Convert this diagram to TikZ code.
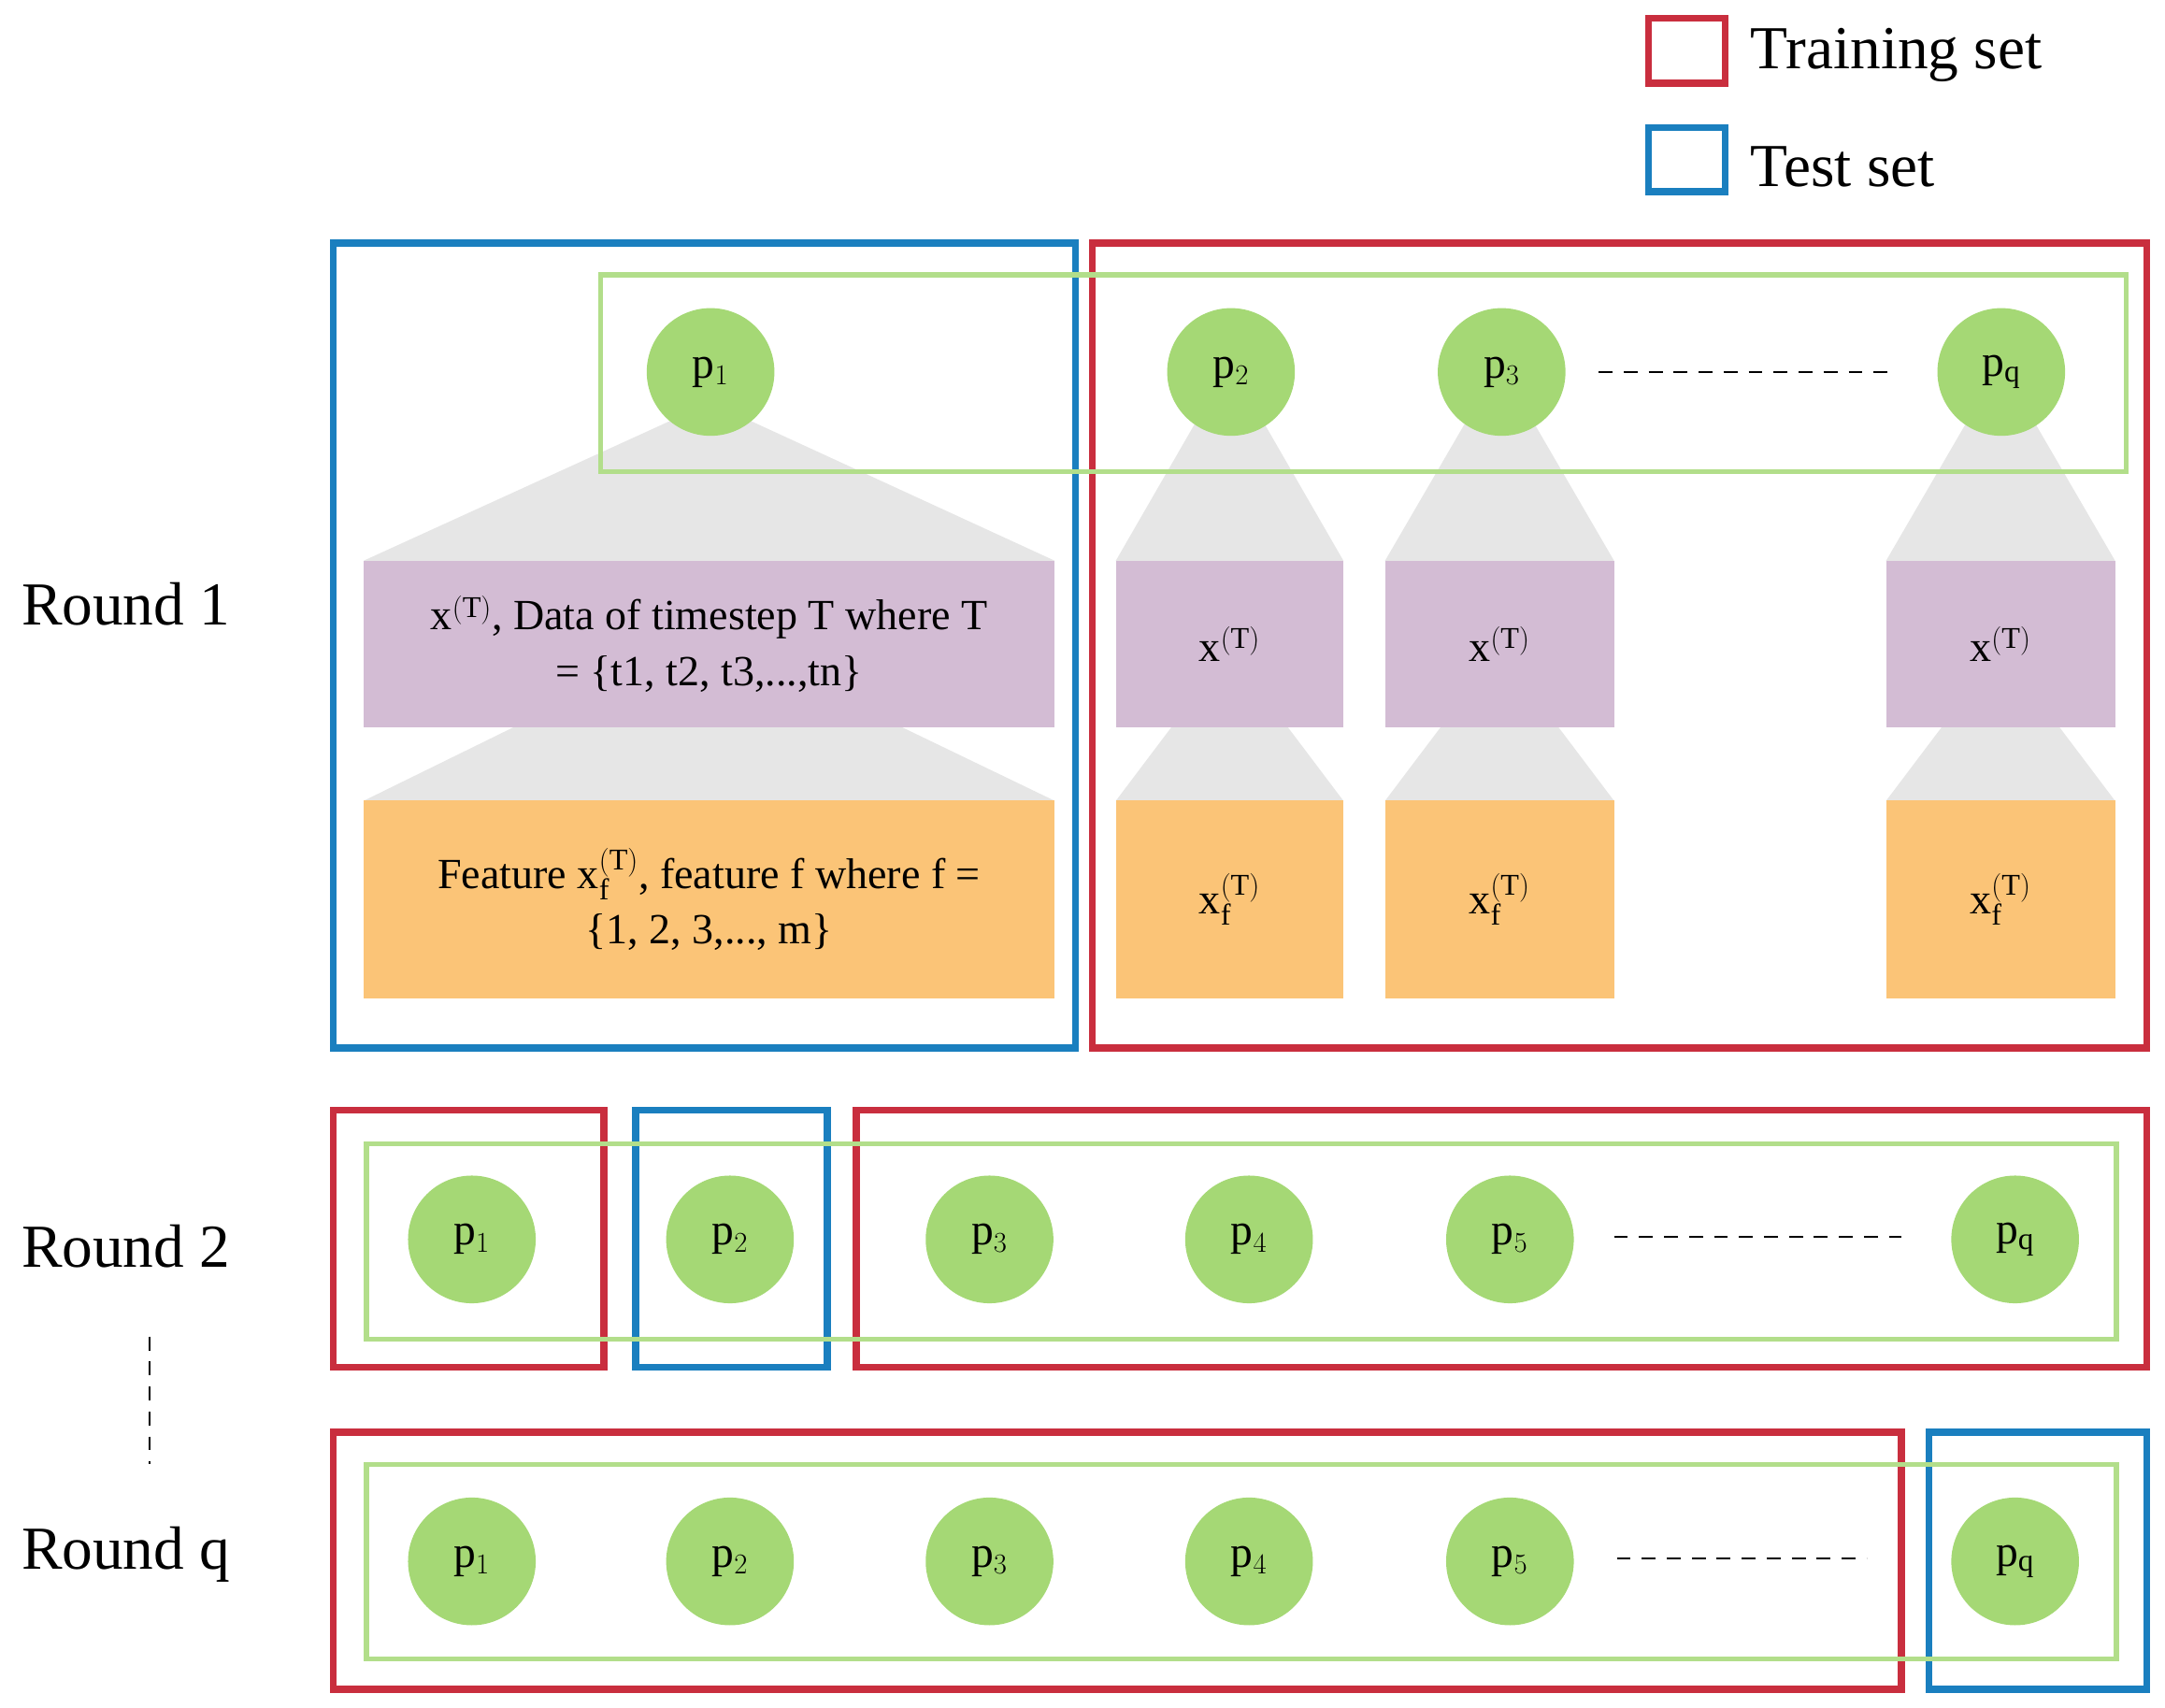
\documentclass[tikz,border=0pt]{standalone}
\usepackage{fontspec}
\setmainfont{Liberation Serif}
\begin{document}
\begin{tikzpicture}[x=1pt,y=-1pt,
  tr/.style={draw=trc,line width=5pt},
  te/.style={draw=tec,line width=5pt},
  gb/.style={draw=grc!85,line width=3.5pt},
  pc/.style={circle,fill=grc,minimum size=92pt,inner sep=0pt,font=\fontsize{32}{36}\selectfont},
  lab/.style={anchor=west,font=\fontsize{44}{50}\selectfont},
  bx/.style={font=\fontsize{31}{40}\selectfont,align=center},
  dl/.style={dashed,line width=1.5pt,dash pattern=on 10pt off 8pt}]
\definecolor{trc}{HTML}{C92E3E}
\definecolor{tec}{HTML}{1A7FBF}
\definecolor{grc}{HTML}{A5D875}
\definecolor{gyc}{HTML}{E6E6E6}
\definecolor{puc}{HTML}{D3BCD4}
\definecolor{orc}{HTML}{FBC477}
\useasboundingbox (0,0) rectangle (1560,1230);
% legend
\draw[tr] (1188,13) rectangle (1243,60);
\node[lab] (lt) at (1258,40) {Training set};
\draw[te] (1188,92) rectangle (1243,138);
\node[lab] (ls) at (1258,120) {Test set};
% labels
\node[lab] (r1) at (12,435) {Round 1};
\node[lab] (r2) at (12,898) {Round 2};
\node[lab] (rq) at (12,1120) {Round q};
\coordinate (va) at (108,963); \coordinate (vb) at (108,1055);
\draw[dl] (va) -- (vb);
% round 1 gray shapes
\fill[gyc] (512,290) -- (262,404) -- (760,404) -- cycle;
\fill[gyc] (370,524) -- (650,524) -- (760,577) -- (262,577) -- cycle;
\foreach \a/\b in {804/968,998/1163,1359/1524}{
  \fill[gyc] ({(\a+\b)/2-22},300) -- ({(\a+\b)/2+22},300) -- (\b,404) -- (\a,404) -- cycle;
  \fill[gyc] ({\a+40},524) -- ({\b-40},524) -- (\b,577) -- (\a,577) -- cycle;
}
\node[bx,fill=puc,minimum width=498pt,minimum height=120pt] (d1) at (511,464) {x$^{\mathrm{(T)}}$, Data of timestep T where T\\ = \{t1, t2, t3,...,tn\}};
\node[bx,fill=orc,minimum width=498pt,minimum height=143pt] (f1) at (511,648) {Feature x$_{\mathrm{f}}^{\mathrm{(T)}}$, feature f where f =\\ \{1, 2, 3,..., m\}};
\foreach \n/\a/\b in {2/804/968,3/998/1163,q/1359/1524}{
  \node[bx,fill=puc,minimum width={\b-\a},minimum height=120pt] (d\n) at ({(\a+\b)/2},464) {x$^{\mathrm{(T)}}$};
  \node[bx,fill=orc,minimum width={\b-\a},minimum height=143pt] (f\n) at ({(\a+\b)/2},648) {x$_{\mathrm{f}}^{\mathrm{(T)}}$};
}
\draw[te] (240,175) rectangle (775,755);
\draw[tr] (787,175) rectangle (1547,755);
\draw[gb] (433,198) rectangle (1532,340);
\node[pc] (a1) at (512,268) {p$_1$};
\node[pc] (a2) at (887,268) {p$_2$};
\node[pc] (a3) at (1082,268) {p$_3$};
\node[pc] (aq) at (1442,268) {p$_\mathrm{q}$};
\coordinate (ad1) at (1152,268); \coordinate (ad2) at (1362,268);
\draw[dl] (ad1) -- (ad2);
% round 2
\draw[tr] (240,800) rectangle (435,985);
\draw[te] (458,800) rectangle (596,985);
\draw[tr] (617,800) rectangle (1547,985);
\draw[gb] (264,824) rectangle (1525,965);
\foreach \i/\x in {1/340,2/526,3/713,4/900,5/1088}{\node[pc] (b\i) at (\x,893) {p$_\i$};}
\node[pc] (bq) at (1452,893) {p$_\mathrm{q}$};
\coordinate (bd1) at (1163,891); \coordinate (bd2) at (1370,891);
\draw[dl] (bd1) -- (bd2);
% round q
\draw[tr] (240,1032) rectangle (1370,1217);
\draw[te] (1390,1032) rectangle (1547,1217);
\draw[gb] (264,1055) rectangle (1525,1195);
\foreach \i/\x in {1/340,2/526,3/713,4/900,5/1088}{\node[pc] (c\i) at (\x,1125) {p$_\i$};}
\node[pc] (cq) at (1452,1125) {p$_\mathrm{q}$};
\coordinate (cd1) at (1165,1123); \coordinate (cd2) at (1345,1123);
\draw[dl] (cd1) -- (cd2);
\end{tikzpicture}
\end{document}
